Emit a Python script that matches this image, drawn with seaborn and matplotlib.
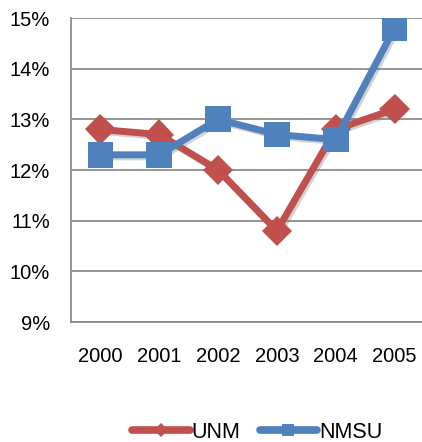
import matplotlib
matplotlib.use("Agg")
import matplotlib.pyplot as plt
import seaborn as sns
import pandas as pd
import matplotlib.patheffects as pe
from matplotlib.ticker import FuncFormatter

years = ["2000", "2001", "2002", "2003", "2004", "2005"]
unm = [12.8, 12.7, 12.0, 10.8, 12.8, 13.2]
nmsu = [12.3, 12.3, 13.0, 12.7, 12.6, 14.8]
series_names = ["UNM", "NMSU"]
colors = {"UNM": "#C0504D", "NMSU": "#4F81BD"}
markers = {"UNM": "D", "NMSU": "s"}
msizes = {"UNM": 15.5, "NMSU": 18.5}

df = pd.DataFrame({
    "year": years * 2,
    "value": unm + nmsu,
    "series": ["UNM"] * len(years) + ["NMSU"] * len(years),
})
df["x"] = df["year"].map({y: i for i, y in enumerate(years)})

sns.set_style("white")
plt.rcParams["font.family"] = ["Liberation Sans", "DejaVu Sans"]
plt.rcParams["text.color"] = "black"
plt.rcParams["xtick.labelcolor"] = "black"
plt.rcParams["ytick.labelcolor"] = "black"

fig = plt.figure(figsize=(4.22, 4.42), dpi=100)
ax = fig.add_axes([71 / 422, 1 - 322 / 442, (424 - 71) / 422, (322 - 18) / 442])

shadow = [pe.SimpleLineShadow(offset=(1.5, -1.5), shadow_color="gray", alpha=0.35), pe.Normal()]
for name in series_names:
    sub = df[df["series"] == name]
    sns.lineplot(data=sub, x="x", y="value", ax=ax, color=colors[name], linewidth=5,
                 marker=markers[name], markersize=msizes[name], markeredgewidth=0,
                 label=name, legend=False, path_effects=shadow, zorder=3)

ax.set_xlim(-0.5, len(years) - 0.5)
ax.set_ylim(9, 15)
ax.set_yticks(range(9, 16))
ax.yaxis.set_major_formatter(FuncFormatter(lambda v, p: f"{int(v)}%"))
ax.set_xticks(range(len(years)))
ax.set_xticklabels(years)
ax.set_xticks([i - 0.5 for i in range(len(years) + 1)], minor=True)
ax.tick_params(axis="x", which="major", length=0, pad=18, labelsize=14.5, labelcolor="black")
ax.tick_params(axis="x", which="minor", length=6, width=1.3, color="#8c8c8c", direction="out")
ax.tick_params(axis="y", length=7, width=1.3, color="#8c8c8c", direction="out", pad=8,
               labelsize=14.5, labelcolor="black")
ax.grid(axis="y", color="#8c8c8c", linewidth=1.3)
ax.set_axisbelow(True)
for s in ["top", "right"]:
    ax.spines[s].set_visible(False)
for s in ["left", "bottom"]:
    ax.spines[s].set_color("#8c8c8c")
    ax.spines[s].set_linewidth(1.3)
ax.set_xlabel("")
ax.set_ylabel("")

handles = [plt.Line2D([], [], color=colors[n], linewidth=5.5, marker=markers[n],
                      markersize=msizes[n] * 0.45, markeredgewidth=0) for n in series_names]
fig.legend(handles, series_names, loc="center", bbox_to_anchor=(0.61, 1 - 432 / 442),
           ncol=2, frameon=False, fontsize=15.5, handlelength=2.65, handletextpad=0.1,
           columnspacing=0.9, borderaxespad=0, labelcolor="black")

fig.savefig("out.png", dpi=100)
